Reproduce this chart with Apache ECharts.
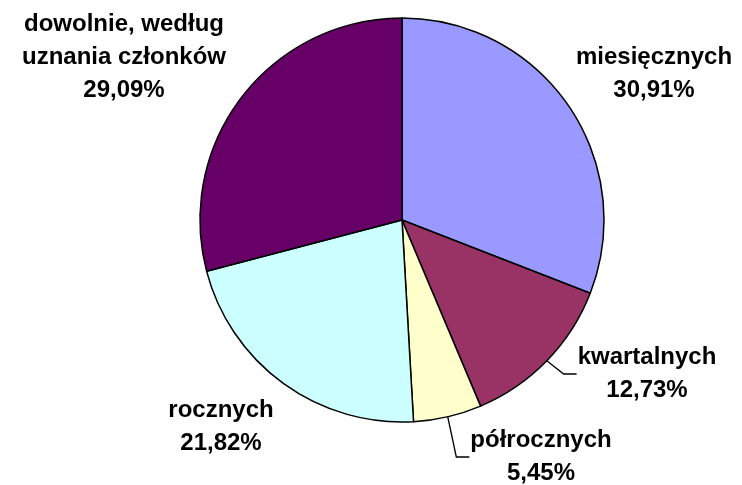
<!DOCTYPE html>
<html>
<head>
<meta charset="utf-8">
<script src="https://cdn.jsdelivr.net/npm/echarts@6/dist/echarts.min.js"></script>
<style>
  html, body { margin: 0; padding: 0; background: #fff; }
  #chart { width: 742px; height: 485px; }
</style>
</head>
<body>
<div id="chart"></div>
<script>
// dane
const categories = ['miesięcznych', 'kwartalnych', 'półrocznych', 'rocznych', 'dowolnie, według\nuznania członków'];
const shares = [30.91, 12.73, 5.45, 21.82, 29.09];
const colors = ['#9999FF', '#993366', '#FFFFCC', '#CCFFFF', '#660066'];

// położenie etykiet (środek bloku tekstu) i które mają linie
const labelPos = [[654, 74], [647, 374], [541, 457], [221, 427], [124, 57]];
const withLine = [false, true, true, false, false];

const chart = echarts.init(document.getElementById('chart'), null, { renderer: 'canvas' });

const option = {
  animation: false,
  backgroundColor: '#ffffff',
  series: [{
    type: 'pie',
    center: [402, 220],
    radius: 202,
    startAngle: 90,
    clockwise: true,
    avoidLabelOverlap: false,
    silent: true,
    itemStyle: { borderColor: '#000', borderWidth: 1.5 },
    label: {
      show: true,
      position: 'outside',
      color: '#000',
      fontFamily: '"Liberation Sans", Arial, sans-serif',
      fontWeight: 'bold',
      fontSize: 24,
      lineHeight: 33,
      align: 'center',
      formatter: p => p.name + '\n' + p.value.toFixed(2).replace('.', ',') + '%'
    },
    labelLine: { show: false, lineStyle: { color: '#000', width: 1.3 } },
    labelLayout: function (params) {
      const i = params.dataIndex;
      const pos = labelPos[i];
      const res = { x: pos[0], y: pos[1], align: 'center', verticalAlign: 'middle' };
      if (withLine[i] && params.labelLinePoints) {
        const left = pos[0] - params.labelRect.width / 2;
        res.labelLinePoints = [
          params.labelLinePoints[0],
          [left - 14, pos[1]],
          [left - 1, pos[1]]
        ];
      }
      return res;
    },
    data: categories.map((c, i) => ({
      name: c,
      value: shares[i],
      itemStyle: { color: colors[i] },
      labelLine: { show: withLine[i], lineStyle: { color: '#000', width: 1.3 } }
    }))
  }]
};

chart.setOption(option);
</script>
</body>
</html>
